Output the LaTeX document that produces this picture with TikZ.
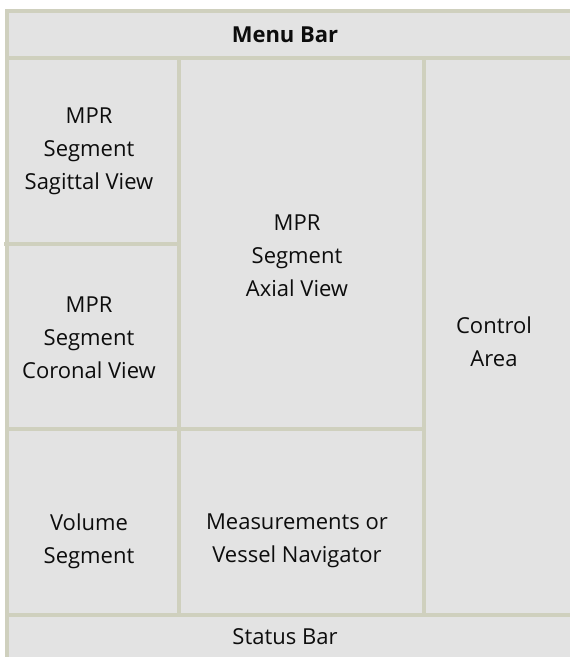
\documentclass[tikz,border=0pt]{standalone}
\usepackage{fontspec}
\setmainfont{Open Sans}
\usetikzlibrary{positioning}
\definecolor{panelgray}{HTML}{E3E3E3}
\definecolor{rulegray}{HTML}{CFD0BE}
\definecolor{inkgray}{HTML}{0D0D0D}

\begin{document}
\begin{tikzpicture}[x=1pt,y=-1pt,divider/.style = {draw=rulegray, line width=4pt},area/.style = {align=center, text=inkgray, inner sep=0pt, font=\fontsize{22}{33}\selectfont},]
\useasboundingbox (0,0) rectangle (570,657);
\fill[panelgray] (5,9) rectangle (570,657);
\node (menu) at (285,35)[area,font=\fontsize{22}{33}\selectfont\bfseries] {Menu Bar};
\node (sagittal) at (89,151)[area] {MPR\\Segment\\Sagittal View};
\node (coronal) at (89,338)[area] {MPR\\Segment\\Coronal View};
\node (axial) at (297,256)[area] {MPR\\Segment\\Axial View};
\node (control) at (494,342)[area] {Control\\Area};
\node (volume) at (89,541)[area] {Volume\\Segment};
\node (measure) at (297,541)[area] {Measurements or\\Vessel Navigator};
\node (status) at (285,637)[area] {Status Bar};
\draw[divider] (5,11) -- (570,11);
\draw[divider] (7,9) -- (7,657);
\draw[divider] (5,58) -- (570,58);
\draw[divider] (179,58) -- (179,615);
\draw[divider] (424,58) -- (424,615);
\draw[divider] (4,244) -- (179,244);
\draw[divider] (7,429) -- (424,429);
\draw[divider] (7,615) -- (570,615);
\end{tikzpicture}
\end{document}
